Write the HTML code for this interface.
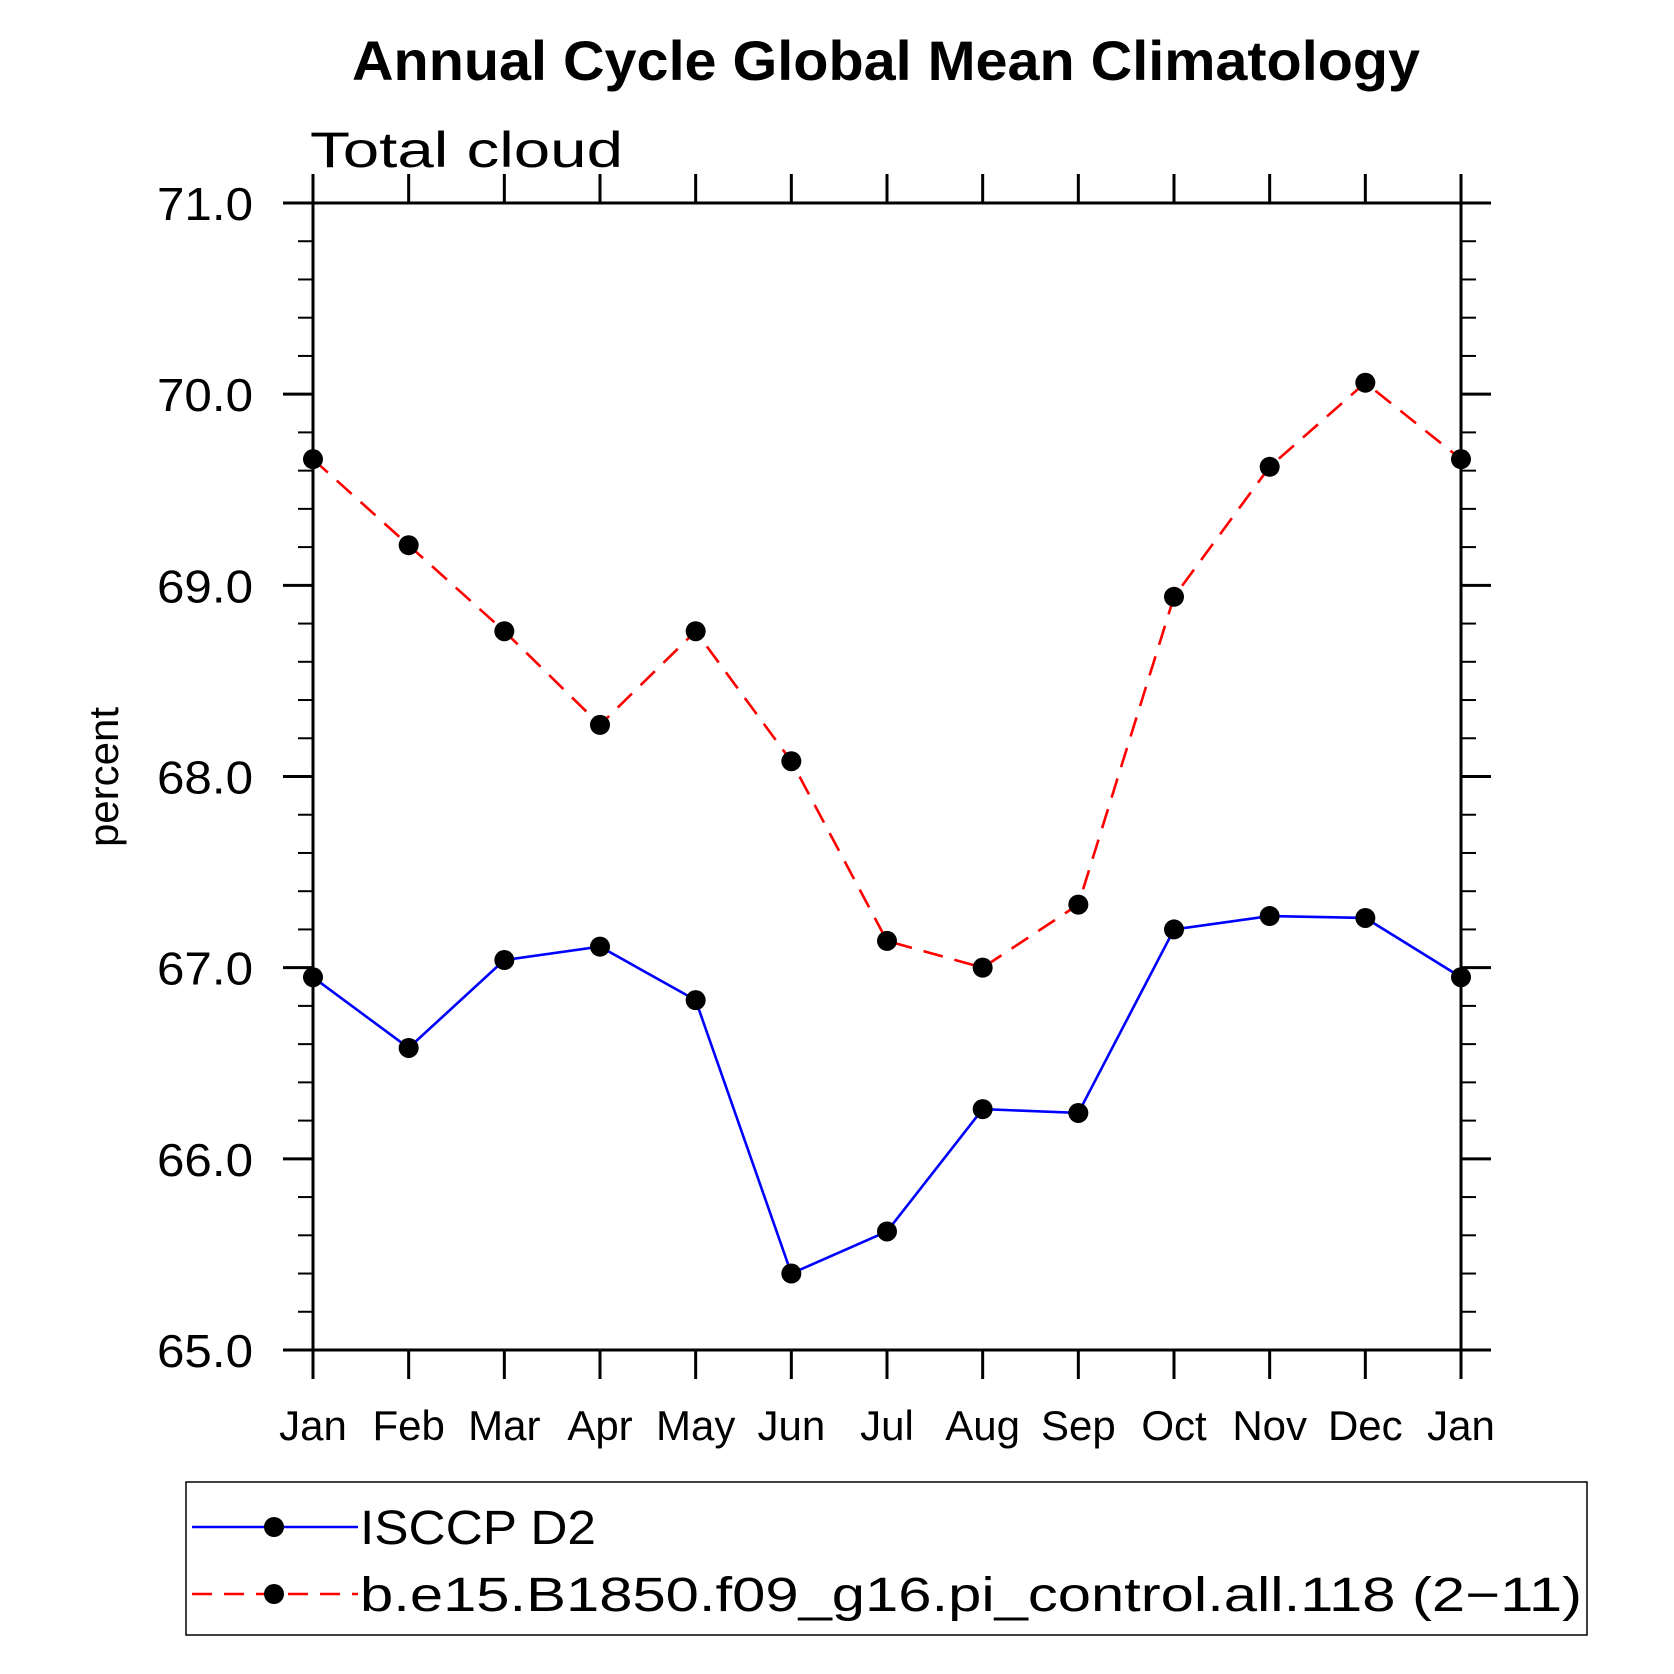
<!DOCTYPE html>
<html><head><meta charset="utf-8"><style>
html,body{margin:0;padding:0;background:#fff;}
svg{display:block;font-family:"Liberation Sans",sans-serif;}
</style></head><body>
<svg id="chart" width="1674" height="1674" viewBox="0 0 1674 1674">
<text x="886" y="80" font-size="56" font-weight="bold" text-anchor="middle" textLength="1068" lengthAdjust="spacingAndGlyphs">Annual Cycle Global Mean Climatology</text>
<text x="310" y="167" font-size="50" textLength="313" lengthAdjust="spacingAndGlyphs">Total cloud</text>
<text transform="translate(118,777) rotate(-90)" font-size="42" text-anchor="middle">percent</text>
<g id="axes"></g>
<g id="series"></g>
<rect x="186" y="1482" width="1401" height="153" fill="none" stroke="#000" stroke-width="1.5"/>
<g>
<line x1="192" y1="1527" x2="358" y2="1527" stroke="#0000ff" stroke-width="2.6"/>
<circle cx="274" cy="1527" r="10" fill="#000"/>
<text x="360" y="1544" font-size="48" textLength="236" lengthAdjust="spacingAndGlyphs">ISCCP D2</text>
</g>
<g>
<line x1="192" y1="1594" x2="358" y2="1594" stroke="#ff0000" stroke-width="2.6" stroke-dasharray="20,12"/>
<circle cx="274" cy="1594" r="10" fill="#000"/>
<text x="360" y="1611" font-size="48" textLength="1222" lengthAdjust="spacingAndGlyphs">b.e15.B1850.f09_g16.pi_control.all.118 (2−11)</text>
</g>
</svg>
<script>
const months = ["Jan","Feb","Mar","Apr","May","Jun","Jul","Aug","Sep","Oct","Nov","Dec","Jan"];
const isccpValues = [66.95,66.58,67.04,67.11,66.83,65.40,65.62,66.26,66.24,67.20,67.27,67.26,66.95];
const modelValues = [69.66,69.21,68.76,68.27,68.76,68.08,67.14,67.00,67.33,68.94,69.62,70.06,69.66];
const yTickLabels = ["65.0","66.0","67.0","68.0","69.0","70.0","71.0"];
const yMin = 65, yMax = 71;

const L=313,R=1461,T=203,B=1350;
const NS="http://www.w3.org/2000/svg";
function xs(i){return L+(R-L)*i/(months.length-1);}
function ys(v){return B-(B-T)*(v-yMin)/(yMax-yMin);}
function mk(tag,attrs,parent){const e=document.createElementNS(NS,tag);for(const k in attrs)e.setAttribute(k,attrs[k]);parent.appendChild(e);return e;}
const axes=document.getElementById('axes');
const frame=mk('rect',{x:L,y:T,width:R-L,height:B-T,fill:'none',stroke:'#000','stroke-width':3},axes);


for(let v=yMin; v<=yMax+1e-9; v+=0.2){
  const y=ys(v); const major=Math.abs(v-Math.round(v))<1e-6;
  const len=major?30:15;
  mk('line',{x1:L-len,y1:y,x2:L,y2:y,stroke:'#000','stroke-width':major?3:2},axes);
  mk('line',{x1:R,y1:y,x2:R+len,y2:y,stroke:'#000','stroke-width':major?3:2},axes);
}
yTickLabels.forEach(s=>{
  const t=mk('text',{x:253,y:ys(parseFloat(s))+17,'font-size':46,'text-anchor':'end',textLength:96,lengthAdjust:'spacingAndGlyphs'},axes);
  t.textContent=s;
  
  
});
months.forEach((m,i)=>{
  const x=xs(i);
  mk('line',{x1:x,y1:T-29,x2:x,y2:T,stroke:'#000','stroke-width':3},axes);
  mk('line',{x1:x,y1:B,x2:x,y2:B+29,stroke:'#000','stroke-width':3},axes);
  const t=mk('text',{x:x,y:1440,'font-size':42,'text-anchor':'middle'},axes);
  t.textContent=m;
  
  
});
const ser=document.getElementById('series');
function drawSeries(vals,color,dash,name){
  const pts=vals.map((v,i)=>xs(i)+','+ys(v)).join(' ');
  const pl=mk('polyline',{points:pts,fill:'none',stroke:color,'stroke-width':2.6},ser);
  if(dash)pl.setAttribute('stroke-dasharray',dash);
  
  
  vals.forEach((v,i)=>{
    const c=mk('circle',{cx:xs(i),cy:ys(v),r:10,fill:'#000'},ser);
    
    
  });
}
drawSeries(isccpValues,'#0000ff',null,'isccp');
drawSeries(modelValues,'#ff0000','20,12','model');
</script>
</body></html>
